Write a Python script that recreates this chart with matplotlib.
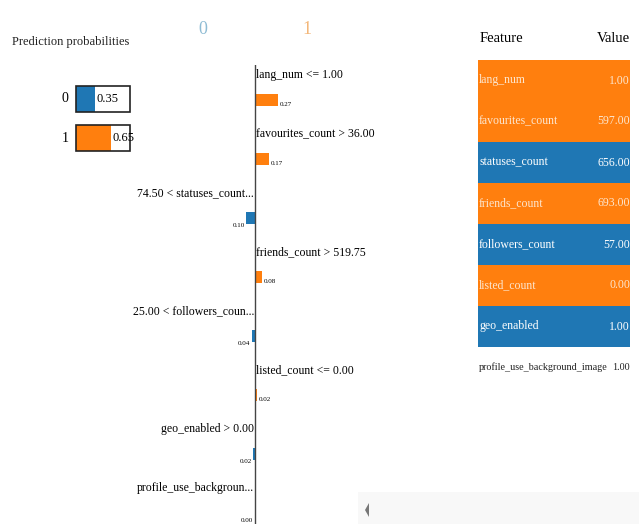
"""LIME style explanation: prediction probabilities, feature weights, feature table."""
import matplotlib
matplotlib.use("Agg")
import matplotlib.pyplot as plt
from matplotlib.patches import Rectangle, Polygon

W, H = 639, 524
BLUE = "#1f77b4"
ORANGE = "#ff7f0e"
plt.rcParams["font.family"] = ["Liberation Serif", "DejaVu Serif"]

# Data.
classes = ["0", "1"]
probas = [0.35, 0.65]

conditions = ["lang_num <= 1.00", "favourites_count > 36.00",
              "74.50 < statuses_count...", "friends_count > 519.75",
              "25.00 < followers_coun...", "listed_count <= 0.00",
              "geo_enabled > 0.00", "profile_use_backgroun..."]
weights = [0.27, 0.17, -0.10, 0.08, -0.04, 0.02, -0.02, -0.001]

features = ["lang_num", "favourites_count", "statuses_count", "friends_count",
            "followers_count", "listed_count", "geo_enabled",
            "profile_use_background_image"]
values = ["1.00", "597.00", "656.00", "693.00", "57.00", "0.00", "1.00", "1.00"]


def px_box(x0, y0, x1, y1):
    """Pixel box (top-left origin) to figure fraction rect."""
    return [x0 / W, 1 - y1 / H, (x1 - x0) / W, (y1 - y0) / H]


fig = plt.figure(figsize=(W / 100, H / 100), dpi=100)

# Background axes in pixel coordinates for free text and the table.
bg = fig.add_axes([0, 0, 1, 1])
bg.set_xlim(0, W)
bg.set_ylim(H, 0)
bg.axis("off")

bg.text(12, 42, "Prediction probabilities", fontsize=9, va="center",
        ha="left", color="#222222")
bg.text(203, 30, classes[0], fontsize=13, ha="center", va="center",
        color="#8fbcd4")
bg.text(307, 30, classes[1], fontsize=13, ha="center", va="center",
        color="#f3b77a")

# Prediction probabilities.
pax = fig.add_axes(px_box(76, 80, 130, 157))
pax.set_xlim(0, 1)
pax.set_ylim(1.487, -0.487)
pax.axis("off")
pcolors = [BLUE, ORANGE]
for i, (c, p) in enumerate(zip(classes, probas)):
    pax.barh(i, p, height=0.67, color=pcolors[i], edgecolor="none")
    pax.barh(i, 1.0, height=0.67, facecolor="none", edgecolor="#222222",
             linewidth=1.2, clip_on=False)
    pax.text(p + 0.03, i, f"{p:.2f}", fontsize=9, va="center", ha="left")
    pax.text(-0.2, i, c, fontsize=10, va="center", ha="center")

# Feature weights.
step = 59
eax = fig.add_axes(px_box(160, 65, 460, 524))
eax.set_xlim(-95 / 85, 205 / 85)
eax.set_ylim((524 - 100) / step, -35 / step)
eax.axis("off")
eax.axvline(0, color="#444444", linewidth=1.0)
for i, (label, w) in enumerate(zip(conditions, weights)):
    color = ORANGE if w > 0 else BLUE
    eax.barh(i, w, height=0.2, color=color)
    if w > 0:
        eax.text(0.01, i - 0.42, label, fontsize=8.5, ha="left", va="center")
        eax.text(w + 0.02, i + 0.08, f"{abs(w):.2f}", fontsize=5,
                 ha="left", va="center")
    else:
        eax.text(-0.01, i - 0.42, label, fontsize=8.5, ha="right",
                 va="center")
        eax.text(w - 0.02, i + 0.12, f"{abs(w):.2f}", fontsize=5,
                 ha="right", va="center")

# Feature / value table.
bg.text(480, 38, "Feature", fontsize=10.5, ha="left", va="center")
bg.text(630, 38, "Value", fontsize=10.5, ha="right", va="center")
row_h = 41
for i, (f, v, w) in enumerate(zip(features, values, weights)):
    top = 60 + i * row_h
    size = 8.5
    if abs(w) >= 0.005:
        fill = ORANGE if w > 0 else BLUE
        bg.add_patch(Rectangle((478, top), 152, row_h, facecolor=fill,
                               edgecolor="none"))
        tcolor = "#fde6cf" if w > 0 else "white"
    else:
        tcolor = "#222222"
        size = 7.3
    yc = top + row_h / 2
    bg.text(479, yc, f, fontsize=size, ha="left", va="center", color=tcolor)
    bg.text(630, yc, v, fontsize=size, ha="right", va="center", color=tcolor)

# Scrollbar remnant at the bottom.
bg.add_patch(Rectangle((358, 492), W - 358, 32, facecolor="#f8f8f8",
                       edgecolor="none"))
bg.add_patch(Polygon([(369, 503), (365, 510), (369, 517)], closed=True,
                     facecolor="#777777", edgecolor="none"))

fig.savefig("out.png", dpi=100)
